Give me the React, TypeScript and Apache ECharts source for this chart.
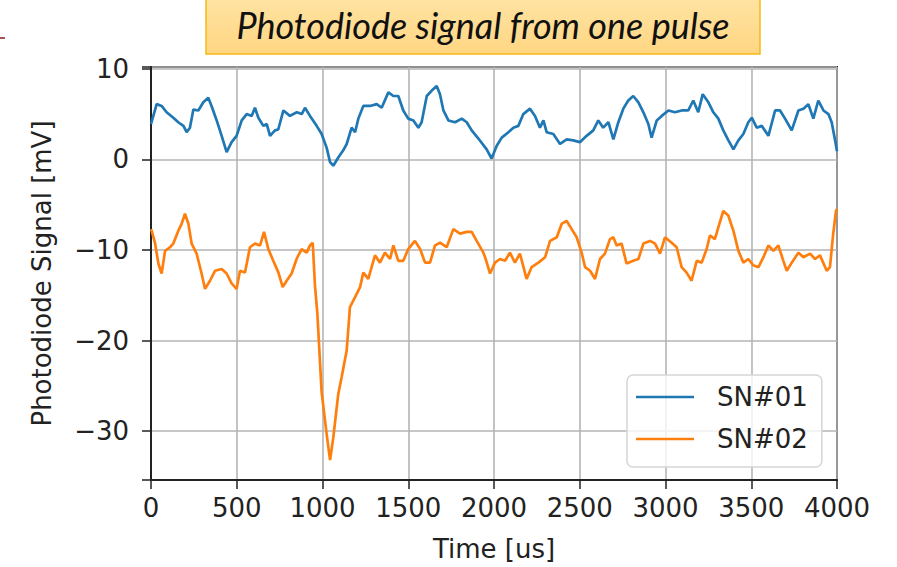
import React, { useEffect, useRef } from "react";
import * as echarts from "echarts";

// Pulse trace read-outs: [time in us, signal in mV]
const TITLE = "Photodiode signal from one pulse";
const X_NAME = "Time [us]";
const Y_NAME = "Photodiode Signal [mV]";
const SERIES_NAMES = ["SN#01", "SN#02"];
const SERIES_COLORS = ["#1f77b4", "#ff7f0e"];

const sn01: [number, number][] = [
  [0, 3.9], [33, 6.1], [62, 5.9], [91, 5.2], [130, 4.6], [159, 4.1], [189, 3.7], [208, 3.0],
  [227, 3.5], [247, 5.5], [276, 5.4], [305, 6.3], [334, 6.8], [353, 5.9], [383, 4.3], [412, 2.6],
  [441, 0.8], [470, 1.9], [499, 2.6], [529, 4.3], [558, 5.0], [587, 4.8], [606, 5.7], [626, 4.6],
  [655, 3.7], [675, 3.9], [694, 2.6], [723, 3.2], [742, 3.3], [772, 5.4], [810, 4.8], [850, 5.2],
  [879, 5.0], [898, 5.7], [927, 4.8], [966, 3.7], [995, 2.8], [1024, 1.3], [1044, -0.3], [1063, -0.7],
  [1092, 0.2], [1121, 1.0], [1141, 1.7], [1170, 3.5], [1190, 3.0], [1209, 4.5], [1238, 5.9], [1277, 5.9],
  [1316, 6.1], [1345, 5.7], [1384, 7.4], [1413, 7.0], [1442, 7.0], [1471, 5.4], [1500, 4.5], [1530, 4.3],
  [1559, 3.5], [1578, 4.1], [1608, 7.0], [1637, 7.6], [1666, 8.1], [1685, 7.2], [1705, 5.4], [1734, 4.3],
  [1773, 4.1], [1812, 4.5], [1841, 4.1], [1870, 3.2], [1909, 2.3], [1957, 1.1], [1986, 0.1], [2016, 1.5],
  [2045, 2.4], [2084, 3.0], [2113, 3.5], [2142, 3.7], [2171, 5.0], [2210, 5.6], [2239, 4.8], [2268, 3.5],
  [2288, 4.3], [2307, 3.0], [2346, 2.8], [2385, 1.7], [2424, 2.2], [2462, 2.1], [2501, 1.9], [2540, 2.6],
  [2579, 3.2], [2608, 4.3], [2637, 3.5], [2667, 4.1], [2696, 2.2], [2725, 4.1], [2754, 5.6], [2783, 6.5],
  [2812, 7.0], [2842, 6.3], [2871, 5.2], [2900, 3.9], [2919, 2.4], [2949, 4.3], [2978, 4.8], [3017, 5.4],
  [3055, 5.2], [3094, 5.4], [3133, 5.4], [3162, 6.5], [3191, 5.2], [3217, 7.2], [3250, 6.3], [3279, 5.2],
  [3308, 4.5], [3337, 3.2], [3367, 2.1], [3396, 1.1], [3425, 2.1], [3454, 2.8], [3483, 4.1], [3503, 4.6],
  [3532, 3.5], [3561, 3.7], [3600, 2.6], [3639, 5.4], [3668, 5.4], [3697, 4.5], [3736, 3.2], [3775, 5.4],
  [3804, 5.6], [3833, 6.1], [3862, 4.5], [3891, 6.5], [3921, 5.4], [3950, 5.0], [3969, 4.1], [3990, 2.0],
  [4000, 0.9],
];

const sn02: [number, number][] = [
  [0, -7.7], [4, -7.9], [23, -9.2], [43, -11.5], [62, -12.6], [82, -10.1], [111, -9.7], [130, -9.3],
  [159, -7.9], [179, -7.1], [198, -6.0], [218, -7.1], [237, -9.3], [266, -10.4], [295, -12.6], [315, -14.3],
  [344, -13.4], [373, -12.3], [412, -12.1], [441, -12.6], [470, -13.7], [499, -14.3], [519, -12.3], [548, -12.5],
  [577, -9.7], [606, -9.3], [636, -9.5], [659, -8.0], [684, -9.9], [713, -11.2], [743, -12.5], [768, -14.1],
  [791, -13.4], [820, -12.6], [849, -11.0], [878, -9.9], [908, -10.3], [927, -9.5], [943, -9.2], [956, -13.9],
  [970, -17.0], [995, -25.7], [1024, -30.3], [1044, -33.2], [1063, -30.7], [1092, -25.9], [1112, -24.0], [1141, -21.1],
  [1160, -16.3], [1190, -15.2], [1219, -14.1], [1238, -12.5], [1267, -13.2], [1306, -10.6], [1335, -11.4], [1364, -10.3],
  [1394, -11.0], [1413, -9.5], [1442, -11.2], [1471, -11.2], [1500, -9.9], [1539, -9.0], [1569, -9.9], [1598, -11.4],
  [1627, -11.4], [1656, -9.5], [1685, -9.2], [1724, -9.7], [1763, -7.7], [1802, -8.2], [1841, -8.0], [1870, -8.0],
  [1899, -9.0], [1938, -10.3], [1948, -10.8], [1977, -12.6], [2006, -11.4], [2035, -11.0], [2064, -11.2], [2093, -10.3],
  [2122, -11.4], [2151, -10.4], [2190, -13.2], [2219, -11.9], [2259, -11.4], [2298, -10.8], [2327, -9.0], [2366, -8.6],
  [2395, -7.1], [2424, -6.8], [2453, -7.7], [2482, -8.6], [2511, -10.3], [2531, -11.9], [2560, -12.3], [2589, -13.2],
  [2618, -11.0], [2647, -10.4], [2676, -8.8], [2696, -8.6], [2715, -9.5], [2744, -9.3], [2773, -11.5], [2812, -11.2],
  [2842, -11.0], [2871, -9.3], [2910, -9.0], [2939, -9.3], [2968, -10.4], [2997, -8.6], [3036, -9.2], [3065, -9.7],
  [3094, -11.9], [3123, -12.5], [3152, -13.4], [3182, -11.2], [3211, -11.4], [3240, -9.9], [3259, -8.4], [3288, -8.8],
  [3308, -7.5], [3337, -5.7], [3366, -6.2], [3396, -7.9], [3425, -10.1], [3454, -11.4], [3483, -11.0], [3512, -11.7],
  [3542, -11.9], [3571, -10.8], [3600, -9.5], [3629, -10.1], [3658, -9.5], [3687, -11.2], [3707, -12.3], [3736, -11.4],
  [3775, -10.3], [3804, -10.8], [3843, -10.4], [3872, -11.0], [3901, -10.6], [3940, -12.3], [3959, -11.9], [3978, -8.2],
  [3994, -5.7], [4000, -5.5],
];

const X_MIN = 0;
const X_MAX = 4000;
const X_STEP = 500;
const Y_MIN = -35.4;
const Y_MAX = 10.2;

const FONT = "DejaVu Sans";
const INK = "#222222";

export default function App() {
  const ref = useRef<HTMLDivElement | null>(null);

  useEffect(() => {
    if (!ref.current) return;
    const chart = echarts.init(ref.current, undefined, { renderer: "svg" });

    // Only whole decades get a label; minus sign drawn as a true minus.
    const fmtY = (v: number) => {
      if (Math.abs(v - Math.round(v / 10) * 10) > 1e-6) return "";
      const r = Math.round(v);
      return r < 0 ? "\u2212" + Math.abs(r) : String(r);
    };
    const fmtX = (v: number) => String(Math.round(v));

    chart.setOption({
      animation: false,
      backgroundColor: "#ffffff",
      grid: {
        left: 151,
        top: 67,
        width: 686,
        height: 413,
        show: true,
        borderColor: INK,
        borderWidth: 2,
        backgroundColor: "transparent",
      },
      xAxis: {
        type: "value",
        min: X_MIN,
        max: X_MAX,
        interval: X_STEP,
        name: X_NAME,
        nameLocation: "middle",
        nameGap: 56,
        nameTextStyle: { fontFamily: FONT, fontSize: 26, color: INK },
        axisLine: { show: true, onZero: false, lineStyle: { color: INK, width: 2 } },
        axisTick: { show: true, inside: false, length: 9, lineStyle: { color: INK, width: 1.5 } },
        axisLabel: { fontFamily: FONT, fontSize: 26, color: INK, margin: 15, formatter: fmtX },
        splitLine: { show: true, lineStyle: { color: "#b5b5b5", width: 1.6 } },
      },
      yAxis: {
        type: "value",
        min: Y_MIN,
        max: Y_MAX,
        name: Y_NAME,
        nameLocation: "middle",
        nameGap: 96,
        nameTextStyle: { fontFamily: FONT, fontSize: 26, color: INK },
        axisLine: { show: true, onZero: false, lineStyle: { color: INK, width: 2 } },
        axisTick: { show: true, inside: false, length: 9, lineStyle: { color: INK, width: 1.5 } },
        axisLabel: { fontFamily: FONT, fontSize: 26, color: INK, margin: 22, formatter: fmtY },
        splitLine: { show: true, lineStyle: { color: "#b5b5b5", width: 1.6 } },
      },
      legend: {
        orient: "vertical",
        left: 627,
        top: 375,
        data: SERIES_NAMES,
        icon: "rect",
        itemWidth: 58,
        itemHeight: 2.5,
        itemGap: 14,
        padding: [8, 14, 14, 9],
        backgroundColor: "rgba(255,255,255,0.8)",
        borderColor: "#d6d6d6",
        borderWidth: 1.5,
        borderRadius: 6,
        textStyle: {
          fontFamily: FONT,
          fontSize: 26,
          lineHeight: 28,
          color: INK,
          padding: [0, 0, 0, 18],
        },
      },
      series: [
        {
          name: SERIES_NAMES[0],
          type: "line",
          data: sn01,
          showSymbol: false,
          color: SERIES_COLORS[0],
          lineStyle: { color: SERIES_COLORS[0], width: 2.7 },
          z: 3,
        },
        {
          name: SERIES_NAMES[1],
          type: "line",
          data: sn02,
          showSymbol: false,
          color: SERIES_COLORS[1],
          lineStyle: { color: SERIES_COLORS[1], width: 2.7 },
          z: 4,
        },
      ],
      graphic: [
        {
          type: "line",
          shape: { x1: 0, y1: 38, x2: 5, y2: 38 },
          style: { stroke: "#8b1a1a", lineWidth: 1.5 },
        },
        {
          type: "group",
          z: 100,
          children: [
            {
              type: "rect",
              shape: { x: 206, y: -2, width: 554, height: 56 },
              style: {
                fill: new echarts.graphic.LinearGradient(0, 0, 0, 1, [
                  { offset: 0, color: "#ffe3a2" },
                  { offset: 1, color: "#ffd683" },
                ]),
                stroke: "#f6b915",
                lineWidth: 1.5,
              },
            },
            {
              type: "text",
              x: 483,
              y: 25,
              style: {
                text: TITLE,
                fontFamily: "Lato",
                fontStyle: "italic",
                fontSize: 36,
                fill: "#111111",
                align: "center",
                verticalAlign: "middle",
              },
            },
          ],
        },
      ],
    });

    return () => chart.dispose();
  }, []);

  return (
    <div
      ref={ref}
      style={{ position: "fixed", left: 0, top: 0, width: 897, height: 567, background: "#fff" }}
    />
  );
}
